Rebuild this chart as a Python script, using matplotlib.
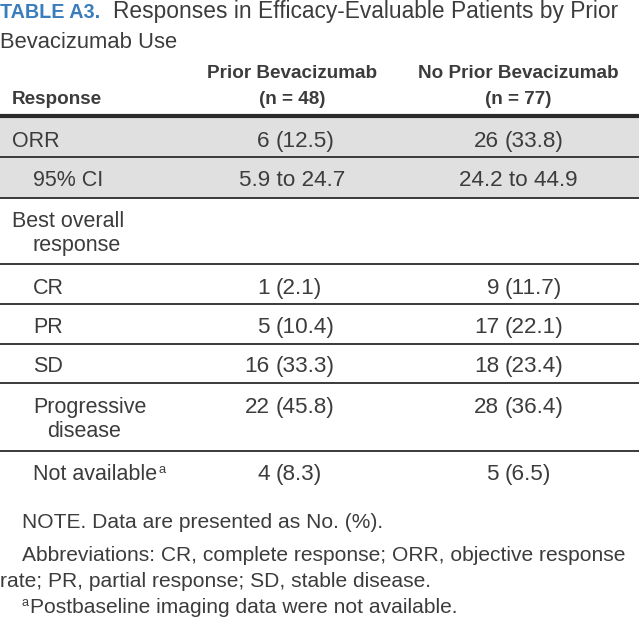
import matplotlib
matplotlib.use("Agg")
import matplotlib.pyplot as plt
from matplotlib import font_manager

names = {f.name for f in font_manager.fontManager.ttflist}
FONT = "Liberation Sans Narrow" if "Liberation Sans Narrow" in names else "Liberation Sans"

# ---------------- data ----------------
title_prefix = "TABLE A3."
title_line1 = "Responses in Efficacy-Evaluable Patients by Prior"
title_line2 = "Bevacizumab Use"
col_header_label = "Response"
col_headers = [["Prior Bevacizumab", "(n = 48)"], ["No Prior Bevacizumab", "(n = 77)"]]

row_labels = [["ORR"], ["95% CI"], ["Best overall", "response"], ["CR"], ["PR"], ["SD"],
              ["Progressive", "disease"], ["Not available"]]
row_indent = [0, 1, 0, 1, 1, 1, 1, 1]
row_superscript = ["", "", "", "", "", "", "", "a"]
prior_bev = ["6 (12.5)", "5.9 to 24.7", "", "1 (2.1)", "5 (10.4)", "16 (33.3)", "22 (45.8)", "4 (8.3)"]
no_prior_bev = ["26 (33.8)", "24.2 to 44.9", "", "9 (11.7)", "17 (22.1)", "18 (23.4)", "28 (36.4)", "5 (6.5)"]
shaded_rows = [0, 1]

footnotes = ["NOTE. Data are presented as No. (%).",
             "Abbreviations: CR, complete response; ORR, objective response",
             "rate; PR, partial response; SD, stable disease.",
             "Postbaseline imaging data were not available."]
footnote_indent = [1, 1, 0, 1]
footnote_super = ["", "", "", "a"]

# ---------------- layout (pixels) ----------------
W, H = 639, 626
TXT = "#3c3c3c"
BLUE = "#3a7dbd"
GRAY = "#e0e0e0"
FS = 15.5
FS_VAL = 16.2
FS_HEAD = 13.6
FS_FOOT = 15.1
row_tops = [117, 157, 198, 264, 304, 344, 383, 451]
row_bottoms = [157, 198, 264, 304, 344, 383, 451, 492]
row_baselines = [147, 186, 227, 294, 333, 372, 413, 480]
line2_gap = 24
label_x = [12, 33]
col_center = [292, 518]
col_split = [270, 499]

fig = plt.figure(figsize=(W / 100, H / 100), dpi=100)
ax = fig.add_axes([0, 0, 1, 1])
ax.set_xlim(0, W)
ax.set_ylim(H, 0)
ax.axis("off")
fig.canvas.draw()
renderer = fig.canvas.get_renderer()

def txt(x, y, s, **kw):
    kw.setdefault("fontsize", FS)
    kw.setdefault("color", TXT)
    kw.setdefault("family", FONT)
    kw.setdefault("va", "baseline")
    return ax.text(x, y, s, **kw)

def width_px(t):
    bb = t.get_window_extent(renderer=renderer)
    return bb.width

# title
t = txt(0, 18, title_prefix, color=BLUE, fontweight="bold", fontsize=14.2)
wpx = width_px(t)
txt(wpx + 13, 18, title_line1, fontsize=16.4)
txt(0, 48, title_line2, fontsize=15.8)

# header
for j, (h1, h2) in enumerate(col_headers):
    txt(col_center[j], 78, h1, ha="center", fontweight="bold", fontsize=FS_HEAD)
    txt(col_center[j], 104, h2, ha="center", fontweight="bold", fontsize=FS_HEAD)
txt(label_x[0], 104, col_header_label, fontweight="bold", fontsize=FS_HEAD)

# shaded rows
for i in shaded_rows:
    ax.add_patch(plt.Rectangle((0, row_tops[i]), W, row_bottoms[i] - row_tops[i],
                               facecolor=GRAY, edgecolor="none", zorder=0))

# lines
ax.plot([0, W], [116, 116], color="#2a2a2a", lw=3.0, solid_capstyle="butt")
for y in row_bottoms[:-1]:
    ax.plot([0, W], [y, y], color="#3a3a3a", lw=1.4, solid_capstyle="butt")

# rows
for i, lines in enumerate(row_labels):
    y0 = row_baselines[i]
    for k, s in enumerate(lines):
        x = label_x[row_indent[i]] + (14 if k > 0 and row_indent[i] == 1 else 0) + (21 if k > 0 and row_indent[i] == 0 else 0)
        t = txt(x, y0 + k * line2_gap, s)
        if k == len(lines) - 1 and row_superscript[i]:
            txt(x + width_px(t) + 1, y0 - 7, row_superscript[i], fontsize=FS * 0.6)
    for j, vals in enumerate([prior_bev, no_prior_bev]):
        v = vals[i]
        if not v:
            continue
        if " (" in v:
            a, b = v.split(" (", 1)
            txt(col_split[j], y0, a, ha="right", fontsize=FS_VAL)
            txt(col_split[j] + 6, y0, "(" + b, ha="left", fontsize=FS_VAL)
        else:
            txt(col_center[j], y0, v, ha="center", fontsize=FS_VAL)

# footnotes
fn_base = [528, 561, 587, 613]
for k, s in enumerate(footnotes):
    x = 22 if footnote_indent[k] else 0
    if footnote_super[k]:
        ts = txt(x, fn_base[k] - 7, footnote_super[k], fontsize=FS_FOOT * 0.6)
        x += width_px(ts) + 1
    txt(x, fn_base[k], s, fontsize=FS_FOOT)

fig.savefig("out.png", dpi=100)
